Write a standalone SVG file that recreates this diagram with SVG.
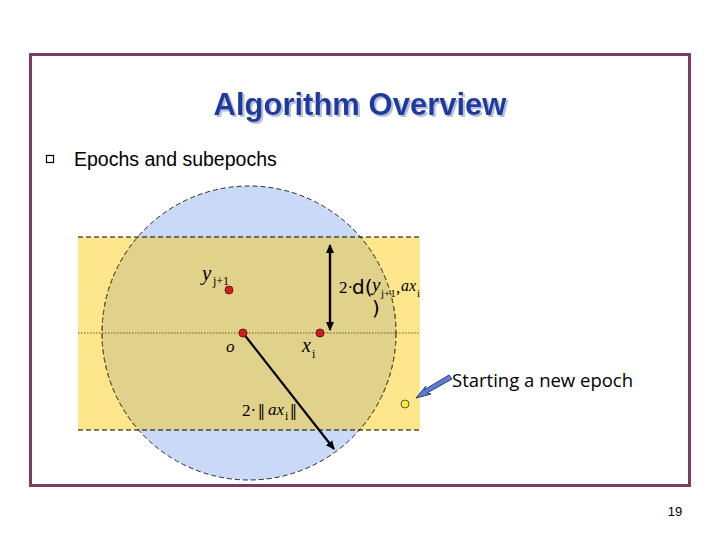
<svg xmlns="http://www.w3.org/2000/svg" width="720" height="540" viewBox="0 0 720 540">
<style>
.math{font-family:"Liberation Serif","DejaVu Serif",serif;font-style:italic;fill:#000}
.sub{font-family:"Liberation Serif","DejaVu Serif",serif;font-size:12px;fill:#000}
.plain{font-family:"Liberation Serif","DejaVu Serif",serif;fill:#000}
.sans{font-family:"Liberation Sans",Arial,sans-serif;fill:#000}
.dot{fill:#cc1f1f;stroke:#7a1010;stroke-width:1}
.dash{fill:none;stroke:#000;stroke-width:1;stroke-dasharray:5 3}
.arrow{stroke:#000;stroke-width:2.2;fill:none}
</style>
<defs>
<marker id="ah" markerWidth="10" markerHeight="10" refX="8" refY="5" orient="auto" markerUnits="userSpaceOnUse">
<path d="M0,1 L9,5 L0,9 Z" fill="#000"/>
</marker>
<clipPath id="band"><rect x="78" y="237" width="342" height="193"/></clipPath>
<filter id="shadow" x="-5%" y="-20%" width="110%" height="150%">
<feDropShadow dx="2" dy="2" stdDeviation="0.3" flood-color="#b8bed8" flood-opacity="1"/>
</filter>
</defs>
<rect width="720" height="540" fill="#fff"/>
<rect x="30.5" y="54.5" width="659" height="431" fill="none" stroke="#7b3b63" stroke-width="3"/>
<g id="title">
<text x="360" y="115" text-anchor="middle" font-family="Liberation Sans,Arial,sans-serif" font-weight="bold" font-size="31" fill="#1f3a9e" filter="url(#shadow)">Algorithm Overview</text>
</g>
<g id="bullet">
<rect x="46.5" y="155.5" width="7" height="7" fill="none" stroke="#000" stroke-width="1.2"/>
<text x="74" y="166" class="sans" font-size="19.5">Epochs and subepochs</text>
</g>
<g id="scene">
<circle cx="249" cy="333" r="147" fill="#c9d9f7"/>
<rect x="78" y="237" width="342" height="193" fill="#fde68b"/>
<circle cx="249" cy="333" r="147" fill="#e0d28a" clip-path="url(#band)"/>
<circle cx="249" cy="333" r="147" fill="none" stroke="#2a2a2a" stroke-width="1" stroke-dasharray="5 3"/>
<circle cx="249" cy="333" r="147" fill="none" stroke="#7a6220" stroke-width="1" stroke-dasharray="5 3" clip-path="url(#band)"/>
<line x1="78" y1="237" x2="420" y2="237" class="dash"/>
<line x1="78" y1="430" x2="420" y2="430" class="dash"/>
<line x1="78" y1="333" x2="420" y2="333" stroke="#6b5a20" stroke-width="1" stroke-dasharray="1.5 1.5"/>
</g>
<g id="connectors">
<line x1="330" y1="325" x2="330" y2="245" class="arrow" marker-end="url(#ah)"/>
<line x1="330" y1="250" x2="330" y2="330" class="arrow" marker-end="url(#ah)"/>
<line x1="243" y1="333" x2="334" y2="449" class="arrow" marker-end="url(#ah)"/>
<path d="M449,375 L424,390 L426,386 L416,398 L431,394 L427,393 L452,379 Z" fill="#5b7fd0" stroke="#2c3e7a" stroke-width="1"/>
</g>
<g id="y_j1">
<circle cx="229" cy="290" r="4" class="dot"/>
<text x="202" y="280" class="math" font-size="21">y</text><text x="213" y="285" class="sub">j+1</text>
</g>
<g id="o">
<circle cx="243" cy="333" r="4" class="dot"/>
<text x="226" y="352" class="math" font-size="17">o</text>
</g>
<g id="x_i">
<circle cx="320" cy="333" r="4" class="dot"/>
<text x="302" y="352" class="math" font-size="20">x</text><text x="312" y="358" class="sub">i</text>
</g>
<g id="dist-label">
<text x="339" y="293" class="plain" font-size="17">2·</text>
<text x="352" y="294" font-family="DejaVu Sans,sans-serif" font-size="20" fill="#000">d(</text>
<text x="372" y="291" class="math" font-size="19">y</text>
<text x="381" y="297" font-family="Liberation Serif,serif" font-size="11" fill="#000">j+1</text>
<text x="396" y="293" class="plain" font-size="17">,</text>
<text x="401" y="291" class="math" font-size="16">ax</text>
<text x="417" y="297" font-family="Liberation Serif,serif" font-size="11" fill="#000">i</text>
<text x="372" y="315" font-family="DejaVu Sans,sans-serif" font-size="20" fill="#000">)</text>
</g>
<g id="norm-label">
<text x="242" y="416" class="plain" font-size="17">2·</text>
<text x="258" y="420" class="plain" font-size="24">‖</text>
<text x="268" y="415" class="math" font-size="17">ax</text>
<text x="285" y="420" class="sub">i</text>
<text x="290" y="420" class="plain" font-size="24">‖</text>
</g>
<g id="new-epoch">
<circle cx="405" cy="404" r="4" fill="#ffee33" stroke="#555" stroke-width="1"/>
<text x="452" y="387" font-family="Open Sans,DejaVu Sans,sans-serif" font-size="18.5" fill="#000">Starting a new epoch</text>
</g>
<text x="675" y="516" text-anchor="middle" class="sans" font-size="13">19</text>
</svg>
